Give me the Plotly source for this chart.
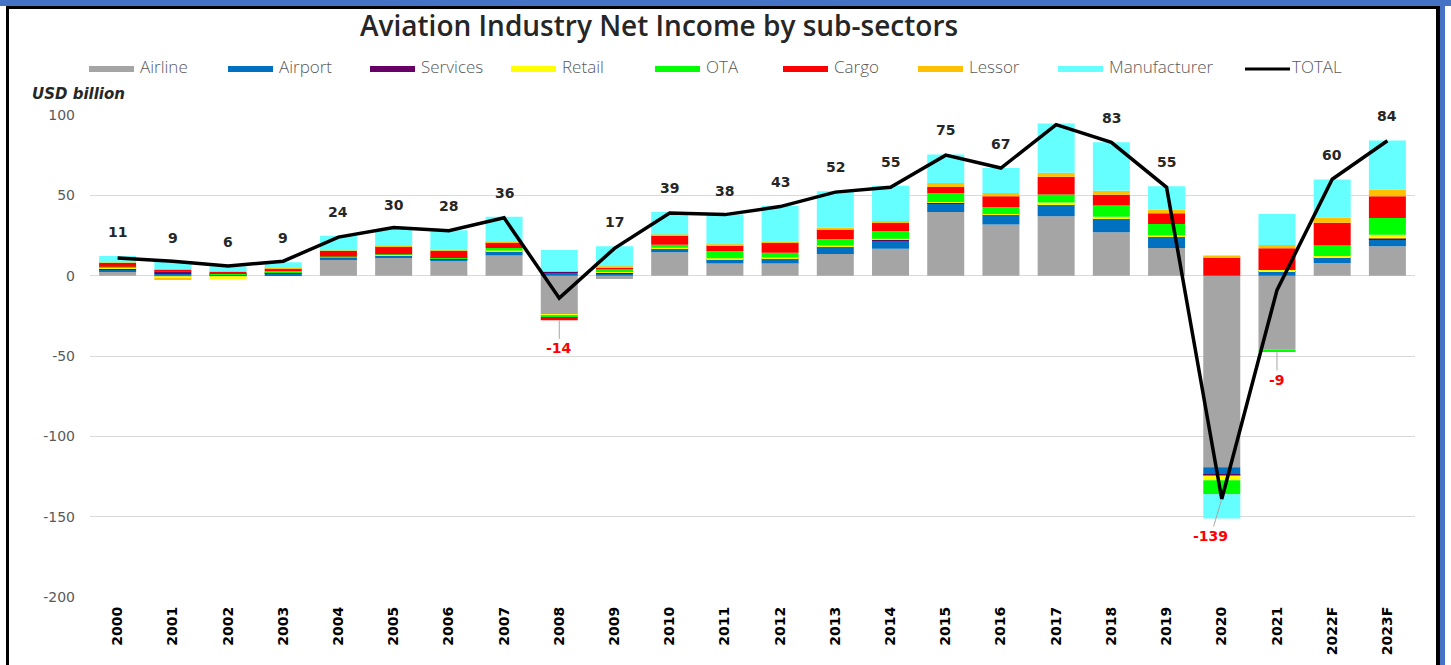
import plotly.graph_objects as go

years = ['2000', '2001', '2002', '2003', '2004', '2005', '2006', '2007', '2008', '2009', '2010', '2011',
         '2012', '2013', '2014', '2015', '2016', '2017', '2018', '2019', '2020', '2021', '2022F', '2023F']

airline = [2.7, -0.3, -0.3, 0.3, 10, 11, 8.9, 12.5, -24.3, -2, 14.5, 7.5,
           7.5, 13.5, 16.8, 39.7, 31.8, 37, 27, 17.2, -119.2, -46, 7.9, 18.3]
airport = [1.2, 1.3, 0.5, 1.2, 1, 1.3, 1.3, 2.5, 2, 1.5, 2.3, 2.5,
           3, 4.5, 5.3, 5.3, 6, 7, 8.3, 6.9, -4.8, 2.7, 3.1, 4.5]
services = [0.8, 1.0, 0.3, 0.3, 0.3, 0.3, 0.2, 0.2, 0.7, 0.3, 0.2, 0.3,
            0.3, 0.3, 0.3, 0.3, 0.2, 0.3, 0.3, 0.3, -0.3, 0.1, 0.2, 0.3]
retail = [0.2, -1.5, -1.7, 0.3, 0.3, 0.4, 0.3, 0.5, -0.5, 0.5, 0.3, 0.5,
          0.5, 0.5, 0.6, 0.5, 0.4, 1.2, 1, 0.8, -3, 0.8, 1, 2.4]
ota = [0.6, 0.2, 0.7, 1.2, 0.3, 0.3, 0.3, 1.5, -0.9, 1.5, 2, 4.5,
       3, 4, 4.6, 5.7, 4.4, 5, 7, 7, -8.7, -1.5, 6.6, 10.4]
cargo = [2.5, 1.3, 1.0, 1.2, 3.5, 4.8, 4.5, 3.6, -2.1, 1.5, 6, 3.7,
         6.3, 6.2, 5.6, 3.7, 6.6, 11, 6.8, 6.6, 11.6, 13.5, 14.1, 13.5]
lessor = [0.2, -0.3, 0.3, 0.3, 0.3, 0.5, 0.3, 0.3, 0.2, 0.5, 0.3, 0.5,
          0.3, 0.9, 0.8, 2.5, 2.1, 2.5, 2.5, 2.3, 1, 2, 3.1, 4.2]
manufacturer = [4, 4.8, 3, 3.5, 9.2, 10.5, 12.4, 15.5, 13.1, 12.5, 14, 18.5,
                22.6, 22.6, 22, 17.7, 15.5, 30.7, 30.1, 14.5, -15.2, 19.3, 23.9, 30.5]
total = [11, 9, 6, 9, 24, 30, 28, 36, -14, 17, 39, 38,
         43, 52, 55, 75, 67, 94, 83, 55, -139, -9, 60, 84]

y_ticks = [100, 50, 0, -50, -100, -150, -200]
y_tick_labels = ['100', '50', '0', '-50', '-100', '-150', '-200']

series = [('Airline', airline, '#A5A5A5'),
          ('Airport', airport, '#0070C0'),
          ('Services', services, '#660066'),
          ('Retail', retail, '#FFFF00'),
          ('OTA', ota, '#00FF00'),
          ('Cargo', cargo, '#FF0000'),
          ('Lessor', lessor, '#FFC000'),
          ('Manufacturer', manufacturer, '#66FFFF')]

NUM_FONT = 'DejaVu Sans'
TXT_FONT = 'Open Sans'
W, H = 1451, 665
L, R, T, B = 90, 36, 115, 68
pw, ph = W - L - R, H - T - B


def px(x):
    return (x - L) / pw


def py(y):
    return (H - B - y) / ph


fig = go.Figure()
for name, vals, col in series:
    fig.add_trace(go.Bar(x=years, y=vals, name=name, marker_color=col,
                         marker_line_width=0))
fig.add_trace(go.Scatter(x=years, y=total, name='TOTAL', mode='lines',
                         line=dict(color='black', width=3.5)))

# data labels (x given as category index)
pos_top = [sum(max(s[1][i], 0) for s in series) for i in range(len(years))]
neg_bot = [sum(min(s[1][i], 0) for s in series) for i in range(len(years))]
for i, yr in enumerate(years):
    if total[i] >= 0:
        fig.add_annotation(x=i, y=pos_top[i] + 15, text='<b>%d</b>' % total[i],
                           showarrow=False, yanchor='middle',
                           font=dict(family=NUM_FONT, size=14, color='#262626'))
    else:
        if yr == '2020':
            fig.add_annotation(x=i, y=total[i], ax=-11, ay=37, text='<b>%d</b>' % total[i],
                               showarrow=True, arrowhead=0, arrowwidth=1, arrowcolor='#A6A6A6',
                               font=dict(family=NUM_FONT, size=14, color='#FF0000'))
        else:
            fig.add_annotation(x=i, y=neg_bot[i], ax=0, ay=28, text='<b>%d</b>' % total[i],
                               showarrow=True, arrowhead=0, arrowwidth=1, arrowcolor='#A6A6A6',
                               font=dict(family=NUM_FONT, size=14, color='#FF0000'))

# title and unit
fig.add_annotation(x=px(659), y=py(25), xref='paper', yref='paper', showarrow=False,
                   xanchor='center', yanchor='middle',
                   text='Aviation Industry Net Income by sub-sectors',
                   font=dict(family=TXT_FONT, size=28, color='#262626', weight=600))
fig.add_annotation(x=px(30), y=py(94), xref='paper', yref='paper', showarrow=False,
                   xanchor='left', yanchor='middle', text='<b><i>USD billion</i></b>',
                   font=dict(family=NUM_FONT, size=15, color='#262626'))

# legend drawn by hand, Excel style keys
legend_x = [89, 228, 370, 511, 655, 783, 918, 1058]
shapes = []
for (name, vals, col), x0 in zip(series, legend_x):
    shapes.append(dict(type='rect', xref='paper', yref='paper', x0=px(x0), x1=px(x0 + 45),
                       y0=py(66), y1=py(72), fillcolor=col, line_width=0))
    fig.add_annotation(x=px(x0 + 49), y=py(67), xref='paper', yref='paper', showarrow=False,
                       xanchor='left', yanchor='middle', text=name,
                       font=dict(family=TXT_FONT, size=17, color='#595959', weight=300))
shapes.append(dict(type='line', xref='paper', yref='paper', x0=px(1245), x1=px(1290),
                   y0=py(69), y1=py(69), line=dict(color='black', width=3)))
fig.add_annotation(x=px(1290), y=py(67), xref='paper', yref='paper', showarrow=False,
                   xanchor='left', yanchor='middle', text='TOTAL',
                   font=dict(family=TXT_FONT, size=17, color='#595959', weight=300))

# frame: blue header strip and black borders
shapes.append(dict(type='rect', xref='paper', yref='paper', x0=px(0), x1=px(W), y0=py(0), y1=py(6),
                   fillcolor='#4472C4', line_width=0))
shapes.append(dict(type='rect', xref='paper', yref='paper', x0=px(6), x1=px(1440), y0=py(6), y1=py(9),
                   fillcolor='black', line_width=0))
shapes.append(dict(type='rect', xref='paper', yref='paper', x0=px(6), x1=px(9), y0=py(6), y1=py(H),
                   fillcolor='black', line_width=0))
shapes.append(dict(type='rect', xref='paper', yref='paper', x0=px(1436), x1=px(1440), y0=py(6), y1=py(H),
                   fillcolor='black', line_width=0))
shapes.append(dict(type='rect', xref='paper', yref='paper', x0=px(1440), x1=px(1445), y0=py(0), y1=py(H),
                   fillcolor='#4472C4', line_width=0))

fig.update_layout(
    width=W, height=H,
    margin=dict(l=L, r=R, t=T, b=B),
    barmode='relative', bargap=0.33,
    showlegend=False,
    plot_bgcolor='white', paper_bgcolor='white',
    font=dict(family=TXT_FONT),
    shapes=shapes,
)
fig.update_xaxes(type='category', range=[-0.5, len(years) - 0.5], tickangle=-90, automargin=False,
                 tickfont=dict(family=NUM_FONT, size=14, color='black', weight='bold'),
                 showgrid=False, showline=False, ticks='', ticklabelstandoff=6)
fig.update_yaxes(range=[-200, 100], tickvals=y_ticks, ticktext=y_tick_labels,
                 showgrid=True, gridcolor='#D9D9D9', gridwidth=1,
                 zeroline=True, zerolinecolor='#D9D9D9', zerolinewidth=1, automargin=False,
                 tickfont=dict(family=NUM_FONT, size=14, color='#595959'), ticks='', ticklabelstandoff=14)

fig.write_html("out.html", config={'displayModeBar': False},
               post_script="document.body.style.margin='0';")
